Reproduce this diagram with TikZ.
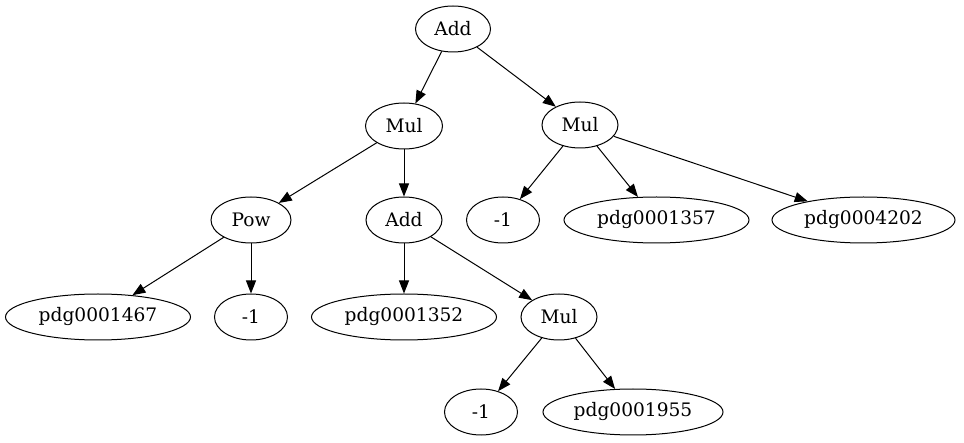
\documentclass[tikz,border=0pt]{standalone}
\usepackage{fontspec}
\setmainfont{DejaVu Serif}
\usetikzlibrary{shapes.geometric,arrows.meta}
\begin{document}
\begin{tikzpicture}[x=1pt,y=1pt,
  nd/.style={draw,ellipse,line width=1pt,inner sep=0pt,minimum height=46pt,minimum width=75pt,font=\fontsize{18.6}{20}\selectfont},
  wide/.style={nd,minimum width=185pt},
  edge/.style={line width=1pt,-{Triangle[length=13pt,width=10pt]}}]
\useasboundingbox (0,0) rectangle (964,-443);
\node[nd] (add1) at (453,-29) {Add};
\node[nd,minimum width=77pt] (mulL) at (404,-126) {Mul};
\node[nd,minimum width=76pt] (mulR) at (580,-125) {Mul};
\node[nd,minimum width=80pt] (pow) at (251,-220) {Pow};
\node[nd,minimum width=76pt] (add2) at (404,-220) {Add};
\node[nd,minimum width=73pt] (m1a) at (503,-220) {-1};
\node[wide] (p1357) at (656.5,-220) {pdg0001357};
\node[wide,minimum width=183pt] (p4202) at (863.5,-220) {pdg0004202};
\node[wide] (p1467) at (98,-317) {pdg0001467};
\node[nd,minimum width=73pt] (m1b) at (251,-317) {-1};
\node[wide] (p1352) at (404,-317) {pdg0001352};
\node[nd,minimum width=76pt] (mul3) at (559,-317) {Mul};
\node[nd,minimum width=73pt] (m1c) at (481,-412) {-1};
\node[wide,minimum width=180pt] (p1955) at (633,-412) {pdg0001955};
\draw[edge] (add1) -- (mulL);
\draw[edge] (add1) -- (mulR);
\draw[edge] (mulL) -- (pow);
\draw[edge] (mulL) -- (add2);
\draw[edge] (mulR) -- (m1a);
\draw[edge] (mulR) -- (p1357);
\draw[edge] (mulR) -- (p4202);
\draw[edge] (pow) -- (p1467);
\draw[edge] (pow) -- (m1b);
\draw[edge] (add2) -- (p1352);
\draw[edge] (add2) -- (mul3);
\draw[edge] (mul3) -- (m1c);
\draw[edge] (mul3) -- (p1955);
\end{tikzpicture}
\end{document}
